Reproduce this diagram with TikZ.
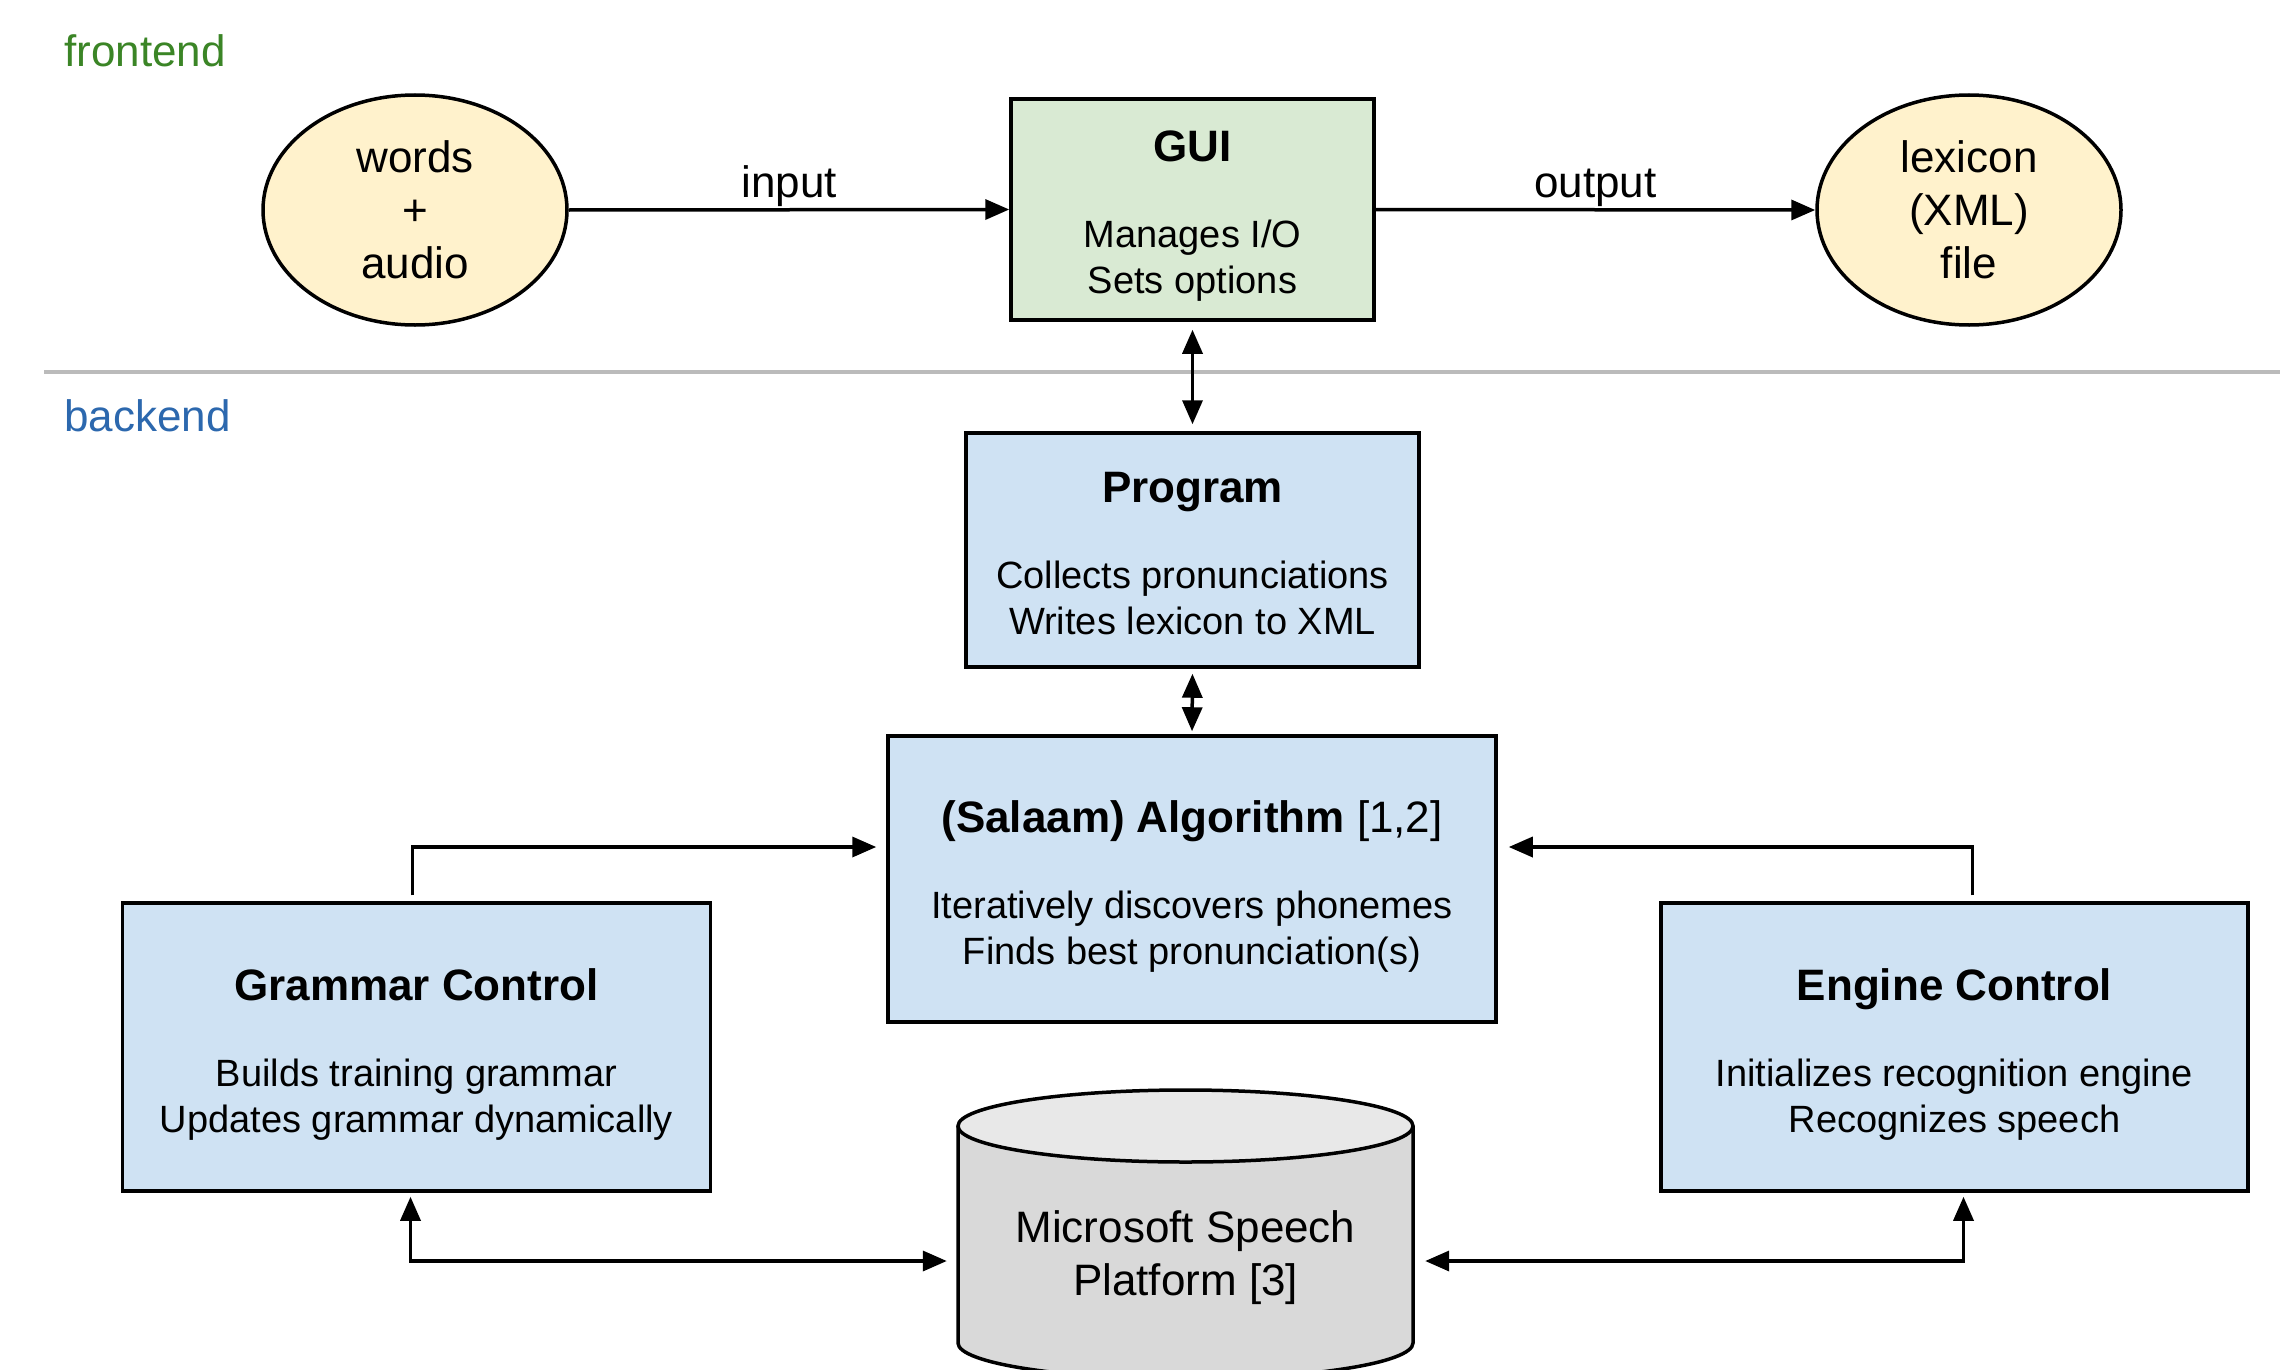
\documentclass[tikz,border=0pt]{standalone}
\usepackage{fontspec}
\setmainfont{Liberation Sans}
\usetikzlibrary{arrows.meta,calc,shapes.geometric}

\definecolor{ovalfill}{HTML}{FFF2CC}
\definecolor{guifill}{HTML}{D9EAD3}
\definecolor{boxfill}{HTML}{CFE2F3}
\definecolor{cylbody}{HTML}{D9D9D9}
\definecolor{cyltop}{HTML}{E8E8E8}
\definecolor{frontgreen}{HTML}{3B8526}
\definecolor{backblue}{HTML}{2C68AE}
\definecolor{sepgray}{HTML}{BBBBBB}

% title line of a box; the tall strut lowers the whole text block a little
\newcommand{\boxtitle}[2][46pt]{{\fontsize{44}{46}\selectfont\rule{0pt}{#1}\bfseries #2}}

\tikzset{
  every node/.style={font=\fontsize{38}{46}\selectfont},
  oval/.style={ellipse, draw, line width=3.5pt, fill=ovalfill,
    minimum width=304pt, minimum height=230pt, align=center,
    font=\fontsize{44}{53}\selectfont, inner sep=0pt},
  block/.style={rectangle, draw, line width=3.5pt, align=center, inner sep=0pt},
  lbl/.style={font=\fontsize{44}{46}\selectfont, inner sep=1pt},
  section/.style={font=\fontsize{44}{46}\selectfont, anchor=west, inner sep=0pt},
  conn/.style={line width=3.5pt, -{Triangle[length=24pt,width=20pt]}},
  conn2/.style={line width=3.5pt, {Triangle[length=24pt,width=20pt]}-{Triangle[length=24pt,width=20pt]}},
}

\begin{document}
\begin{tikzpicture}[x=1pt, y=-1pt]
\useasboundingbox (0,0) rectangle (2280,1370);
\fill[white] (0,0) rectangle (2280,1370);

% section labels and divider
\node[section, text=frontgreen] (frontlbl) at (64,51) {frontend};
\node[section, text=backblue] (backlbl) at (64,416) {backend};
\draw[sepgray, line width=4pt] (44,372) -- (2280,372);

% frontend
\node[oval] (words) at (415,210) {words\\+\\audio};
\node[oval] (lexicon) at (1969,210) {lexicon\\(XML)\\file};
\node[block, fill=guifill, minimum width=363pt, minimum height=221pt] (gui) at (1192.5,209.5)
  {\boxtitle[43pt]{GUI}\\[40pt]Manages I/O\\Sets options};

% backend
\node[block, fill=boxfill, minimum width=453pt, minimum height=234pt] (program) at (1192.5,550)
  {\boxtitle[38pt]{Program}\\[40pt]Collects pronunciations\\Writes lexicon to XML};
\node[block, fill=boxfill, minimum width=608pt, minimum height=286pt] (algo) at (1192,879)
  {{\fontsize{44}{46}\selectfont\rule{0pt}{46pt}\textbf{(Salaam) Algorithm} [1,2]}\\[40pt]Iteratively discovers phonemes\\Finds best pronunciation(s)};
\node[block, fill=boxfill, minimum width=588pt, minimum height=288pt] (grammar) at (416.5,1047)
  {\boxtitle{Grammar Control}\\[40pt]Builds training grammar\\Updates grammar dynamically};
\node[block, fill=boxfill, minimum width=587pt, minimum height=288pt] (engine) at (1954.5,1047)
  {\boxtitle{Engine Control}\\[40pt]Initializes recognition engine\\Recognizes speech};

% speech platform cylinder
\fill[cylbody] (958,1126) -- (958,1343)
  arc[start angle=180, end angle=0, x radius=227.5, y radius=36] -- (1413,1126) -- cycle;
\draw[line width=3.5pt] (958,1126) -- (958,1343)
  arc[start angle=180, end angle=0, x radius=227.5, y radius=36] -- (1413,1126);
\draw[line width=3.5pt, fill=cyltop] (1185.5,1126) ellipse[x radius=227.5, y radius=36];
\node[minimum width=455pt, minimum height=200pt, inner sep=0pt, align=center,
  font=\fontsize{44}{53}\selectfont] (msp) at (1185.5,1258) {Microsoft Speech\\Platform [3]};

% connectors
\draw[conn] (words.east) -- node[lbl, midway, above] {input} (gui.west);
\draw[conn] (gui.east) -- node[lbl, midway, above] {output} (lexicon.west);
\draw[conn2, shorten <=8pt, shorten >=7pt] (gui.south) -- (program.north);
\draw[conn2, shorten <=5pt, shorten >=3pt] (program.south) -- (algo.north);
\draw[conn, shorten <=6pt, shorten >=10pt] ([xshift=-4pt]grammar.north) |- ([yshift=32pt]algo.west);
\draw[conn, shorten <=6pt, shorten >=11pt] ([xshift=18pt]engine.north) |- ([yshift=32pt]algo.east);
\draw[conn2, shorten <=4pt, shorten >=11pt] ([xshift=-6pt]grammar.south) |- ([yshift=-3pt]msp.west);
\draw[conn2, shorten <=4pt, shorten >=12pt] ([xshift=9pt]engine.south) |- ([yshift=-3pt]msp.east);
\end{tikzpicture}
\end{document}
